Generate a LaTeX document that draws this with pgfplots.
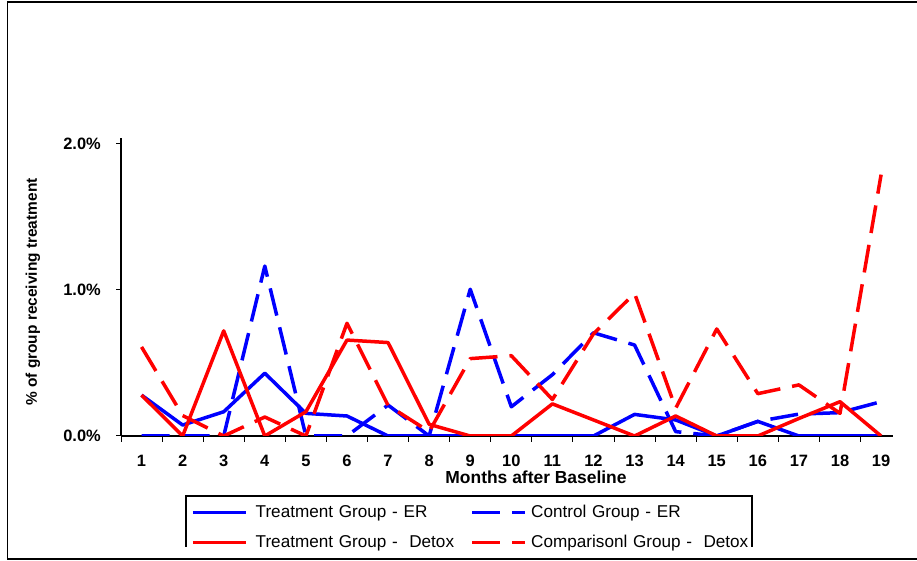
\documentclass[border=0pt]{standalone}
\usepackage{fontspec}
\setmainfont{Liberation Sans}
\usepackage{pgfplots}
\pgfplotsset{compat=1.18}
\begin{document}
\begin{tikzpicture}
\draw[line width=1.6bp] (917bp,559bp) -- (7.5bp,559bp) -- (7.5bp,2bp) -- (917bp,2bp);
\begin{axis}[
  set layers=standard,
  at={(121bp,125bp)}, anchor=south west,
  scale only axis, width=772bp, height=298bp,
  xmin=0.5, xmax=19.29, ymin=0, ymax=2.041,
  axis lines*=left,
  axis line style={line width=1.3bp, black},
  xtick={1,...,19},
  major x tick style={draw=none},
  minor xtick={0.5,1.5,...,18.5},
  ytick={0,1,2},
  yticklabels={0.0\%,1.0\%,2.0\%},
  /pgf/number format/assume math mode=true,
  tick align=outside,
  major tick length=5bp, minor tick length=6bp,
  tick style={black, line width=1bp},
  ticklabel style={font=\bfseries\fontsize{16.5}{19}\selectfont},
  xticklabel style={anchor=center, yshift=-20bp},
  yticklabel style={anchor=east, inner sep=0pt, xshift=-15bp},
  xlabel={Months after Baseline},
  xlabel style={font=\bfseries\fontsize{17.5}{20}\selectfont, at={(axis description cs:0.5376,-0.1376)}, anchor=center},
  ylabel={\% of group receiving treatment},
  ylabel style={font=\bfseries\fontsize{15.5}{18}\selectfont, at={(axis description cs:-0.114,0.483)}, anchor=center},
  legend columns=2,
  legend cell align=left,
  legend style={at={(axis description cs:0.0842,-0.2013)}, anchor=north west, draw=none, fill=none,
    inner xsep=5bp, inner ysep=4bp, row sep=5bp,
    nodes={font=\fontsize{17.2}{20}\selectfont, text height=13bp, text depth=4bp, inner ysep=4bp, inner xsep=8bp, text width=204bp},
    /tikz/every even column/.append style={column sep=3bp}},
  legend image code/.code={\draw[#1, line width=3.5bp] (0bp,0bp) -- (53bp,0bp);},
]
\addplot[blue, line width=3.5bp, line join=round] coordinates {
(1,0.28) (2,0.075) (3,0.166) (4,0.43) (5,0.155) (6,0.137) (7,0) (8,0) (9,0) (10,0)
(11,0) (12,0) (13,0.148) (14,0.11) (15,0) (16,0.1) (17,0) (18,0) (19,0)};
\addlegendentry{\mbox{Treatment Group - ER}}
\addplot[blue, line width=3.5bp, line join=round, dash pattern=on 28bp off 12bp] coordinates {
(1,0) (2,0) (3,0) (4,1.164) (5,0) (6,0) (7,0.212) (8,0) (9,1.005) (10,0.2)
(11,0.42) (12,0.707) (13,0.623) (14,0.03) (15,0) (16,0.1) (17,0.15) (18,0.16) (19,0.235)};
\addlegendentry{\mbox{\hspace{-4bp}Control Group - ER}}
\addplot[red, line width=3.5bp, line join=round] coordinates {
(1,0.28) (2,0) (3,0.72) (4,0) (5,0.166) (6,0.657) (7,0.64) (8,0.08) (9,0) (10,0)
(11,0.22) (12,0.11) (13,0) (14,0.137) (15,0) (16,0) (17,0.12) (18,0.235) (19,0)};
\addlegendentry{\mbox{Treatment Group -\ \ Detox}}
\addplot[red, line width=3.5bp, line join=round, dash pattern=on 28bp off 12bp] coordinates {
(1,0.61) (2,0.14) (3,0) (4,0.13) (5,0) (6,0.772) (7,0.21) (8,0.03) (9,0.53) (10,0.55)
(11,0.25) (12,0.70) (13,0.977) (14,0.19) (15,0.733) (16,0.29) (17,0.35) (18,0.155) (19,1.79)};
\addlegendentry{\mbox{\hspace{-4bp}Comparisonl Group -\ \ Detox}}
\end{axis}
\draw[line width=1.2bp] (186bp,14bp) -- (186bp,65bp) -- (752bp,65bp) -- (752bp,14bp);
\pgfresetboundingbox
\useasboundingbox (0bp,0bp) rectangle (917bp,561bp);
\end{tikzpicture}
\end{document}
